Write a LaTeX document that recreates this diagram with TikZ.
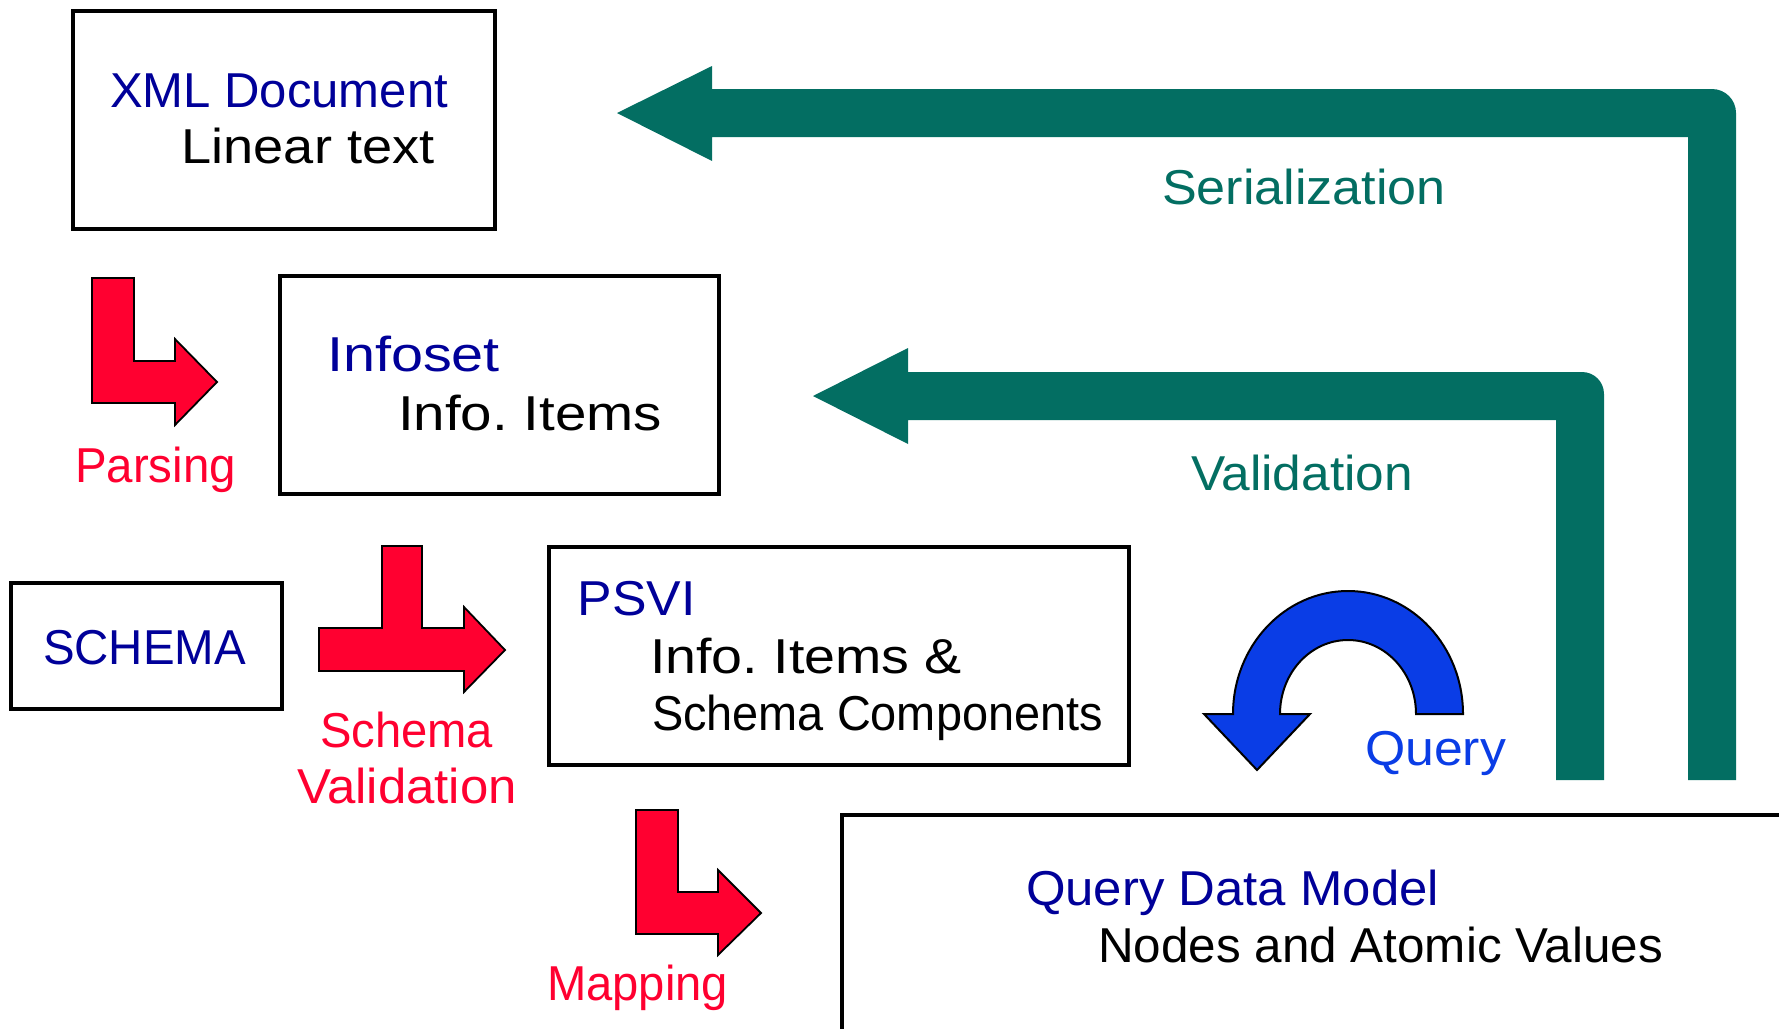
\documentclass[tikz,border=0pt]{standalone}
\usepackage{fontspec}
\usepackage{graphicx}
\setmainfont{Liberation Sans}
\frenchspacing
\definecolor{tealflow}{HTML}{036E62}
\definecolor{redflow}{HTML}{FF0030}
\definecolor{navytext}{HTML}{000099}
\definecolor{queryblue}{HTML}{0A3DE6}
% set a label to a given width, keeping its natural height
\newcommand{\fitto}[2]{\resizebox{#1}{\height}{#2}}
\tikzset{
  box/.style={draw=black, line width=3.5pt, rectangle, inner sep=0pt, fill=none},
  lbl/.style={anchor=base west, inner sep=0pt, outer sep=0pt,
              font=\fontsize{49}{58}\selectfont},
  title/.style={lbl, text=navytext},
  body/.style={lbl, text=black},
  redlbl/.style={lbl, text=redflow},
  teallbl/.style={lbl, text=tealflow},
  bluelbl/.style={lbl, text=queryblue},
  redarrow/.style={fill=redflow, draw=black, line width=1.8pt, line join=miter},
  tealarrow/.style={fill=tealflow, draw=none},
  bluearrow/.style={fill=queryblue, draw=black, line width=2pt, line join=miter}
}
\begin{document}
\begin{tikzpicture}[x=1pt, y=-1pt]
\useasboundingbox (0,0) rectangle (1779,1028);
\clip (0,0) rectangle (1779,1028);

% boxes
\node[box, minimum width=422pt, minimum height=218pt] (xml) at (284,120) {};
\node[box, minimum width=439pt, minimum height=218pt] (infoset) at (499.5,385) {};
\node[box, minimum width=271pt, minimum height=126pt] (schema) at (146.5,646) {};
\node[box, minimum width=580pt, minimum height=218pt] (psvi) at (839,656) {};
\node[box, minimum width=1000pt, minimum height=400pt, anchor=north west] (qdm) at (840,813) {};

% box texts
\node[title] (xmlT) at (110,107) {\fitto{338pt}{XML Document}};
\node[body]  (xmlB) at (181.5,163) {\fitto{253pt}{Linear text}};
\node[title] (infT) at (327,371) {\fitto{173pt}{Infoset}};
\node[body]  (infB) at (398,430) {\fitto{264pt}{Info. Items}};
\node[title] (schT) at (43,664) {\fitto{203pt}{SCHEMA}};
\node[title] (psviT) at (577.5,615) {\fitto{118pt}{PSVI}};
\node[body]  (psviB1) at (650,673) {\fitto{312pt}{Info. Items \&}};
\node[body]  (psviB2) at (652,730) {\fitto{451pt}{Schema Components}};
\node[title] (qdmT) at (1026,905) {\fitto{413pt}{Query Data Model}};
\node[body]  (qdmB) at (1098,962) {\fitto{565pt}{Nodes and Atomic Values}};

% red step arrows
\draw[redarrow] (92,278) -- (134,278) -- (134,361) -- (175,361) -- (175,339)
  -- (217,382) -- (175,425) -- (175,403) -- (92,403) -- cycle;
\draw[redarrow] (319,628) -- (382,628) -- (382,546) -- (422,546) -- (422,628)
  -- (464,628) -- (464,607) -- (505,650) -- (464,692) -- (464,671) -- (319,671) -- cycle;
\draw[redarrow] (636,810) -- (678,810) -- (678,892) -- (718,892) -- (718,870)
  -- (761,913) -- (718,955) -- (718,934) -- (636,934) -- cycle;

\node[redlbl] (parsing) at (75,482) {\fitto{161pt}{Parsing}};
\node[redlbl] (schemaV1) at (320,747) {\fitto{173pt}{Schema}};
\node[redlbl] (schemaV2) at (297,803) {\fitto{220pt}{Validation}};
\node[redlbl] (mapping) at (547,1000) {\fitto{181pt}{Mapping}};

% teal return arrows
\fill[tealarrow] (617,113) -- (712,66) -- (712,89) -- (1712,89)
  .. controls (1725.3,89) and (1736,99.7) .. (1736,113)
  -- (1736,780) -- (1688,780) -- (1688,137) -- (712,137) -- (712,161) -- cycle;
\fill[tealarrow] (813,396) -- (908,348) -- (908,372) -- (1582,372)
  .. controls (1594.2,372) and (1604,381.8) .. (1604,394)
  -- (1604,780) -- (1556,780) -- (1556,420) -- (908,420) -- (908,444) -- cycle;

\node[teallbl] (serial) at (1162,204) {\fitto{284pt}{Serialization}};
\node[teallbl] (valid) at (1191,490) {\fitto{222pt}{Validation}};

% query U-turn arrow
\draw[bluearrow] (1463,714)
  .. controls (1463,646.1) and (1411.5,591) .. (1348,591)
  .. controls (1284.5,591) and (1233,646.1) .. (1233,714)
  -- (1204,714) -- (1257,770) -- (1310,714) -- (1280,714)
  .. controls (1280,673.1) and (1310.4,640) .. (1348,640)
  .. controls (1385.6,640) and (1416,673.1) .. (1416,714) -- cycle;
\node[bluelbl] (query) at (1365,765) {\fitto{141pt}{Query}};
\end{tikzpicture}
\end{document}
